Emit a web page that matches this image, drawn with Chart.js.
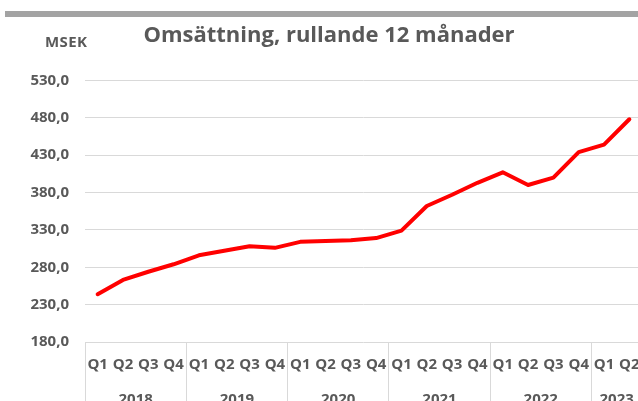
<!DOCTYPE html>
<html>
<head>
<meta charset="utf-8">
<script src="https://cdn.jsdelivr.net/npm/chart.js@4.4.0/dist/chart.umd.min.js"></script>
<style>
  html, body { margin: 0; padding: 0; background: #fff; overflow: hidden; }
  #wrap { position: relative; width: 638px; height: 401px; overflow: hidden; background: #fff; }
  #topbar { position: absolute; left: 5px; top: 11px; width: 640px; height: 6px; background: #a3a3a3; }
  #unit { position: absolute; left: 45px; top: 31px; font: 700 15px "Open Sans", sans-serif; letter-spacing: 0.4px; color: #595959; }
  #box { position: absolute; left: 0; top: 0; width: 658px; height: 410px; }
</style>
</head>
<body>
<div id="wrap">
  <div id="box"><canvas id="salesChart"></canvas></div>
  <div id="topbar"></div>
  <div id="unit">MSEK</div>
</div>
<script>
// Omsättning, rullande 12 månader (MSEK)
const years = ['2018', '2019', '2020', '2021', '2022', '2023'];
const quartersPerYear = [4, 4, 4, 4, 4, 2];
const quarterNames = ['Q1', 'Q2', 'Q3', 'Q4'];
const revenue = [
    244, 263, 274, 284,
    296, 302, 308, 306,
    314, 315, 316, 319,
    329, 362, 377, 393,
    407, 390, 400, 434,
    444, 478
];
const yTicks = { min: 180, max: 530, step: 50 };

const labels = years.flatMap((y, i) => quarterNames.slice(0, quartersPerYear[i]));

// year label centres, in category index units
const yearCenters = [];
let start = 0;
quartersPerYear.forEach(n => {
    yearCenters.push(start + (n - 1) / 2);
    start += n;
});

const textColor = '#595959';
const gridColor = '#d9d9d9';
const tickFont = { family: '"Open Sans", sans-serif', size: 15, weight: '700' };

new Chart(document.getElementById('salesChart'), {
    type: 'line',
    data: {
        labels: labels,
        datasets: [{
            label: 'Omsättning',
            data: revenue,
            borderColor: '#ff0000',
            borderWidth: 4,
            pointRadius: 0,
            tension: 0,
            borderCapStyle: 'round',
            borderJoinStyle: 'round'
        }]
    },
    options: {
        responsive: true, maintainAspectRatio: false, animation: false,
        layout: { padding: { left: 16, right: 16, top: 0, bottom: 0 } },
        plugins: {
            legend: { display: false },
            tooltip: { enabled: false },
            title: {
                display: true,
                text: 'Omsättning, rullande 12 månader',
                color: textColor,
                font: { family: '"Open Sans", sans-serif', size: 22, weight: '700' },
                padding: { top: 23, bottom: 31 }
            }
        },
        scales: {
            y: {
                min: yTicks.min, max: yTicks.max,
                ticks: {
                    stepSize: yTicks.step,
                    color: textColor, font: tickFont, padding: 16,
                    callback: v => v.toFixed(1).replace('.', ',')
                },
                grid: { color: gridColor, lineWidth: 1, drawTicks: false },
                border: { display: false },
                afterFit: s => { s.width = 69; }
            },
            x: {
                offset: true,
                weight: 0,
                ticks: { color: textColor, font: tickFont, padding: -46, autoSkip: false, maxRotation: 0 },
                grid: {
                    offset: true,
                    drawOnChartArea: false,
                    tickLength: 60,
                    tickColor: ctx => ctx.index % 4 === 0 ? gridColor : 'rgba(0,0,0,0)'
                },
                border: { display: false },
                afterFit: s => { s.height = 40; }
            },
            x2: {
                type: 'linear', position: 'bottom',
                weight: 1,
                min: -0.5, max: labels.length - 0.5,
                afterBuildTicks: s => { s.ticks = yearCenters.map(v => ({ value: v })); },
                ticks: {
                    color: textColor, font: tickFont, padding: 1, autoSkip: false, maxRotation: 0,
                    callback: (v, i) => years[i]
                },
                grid: { display: false },
                border: { display: false },
                afterFit: s => { s.height = 28; }
            }
        }
    }
});
</script>
</body>
</html>
